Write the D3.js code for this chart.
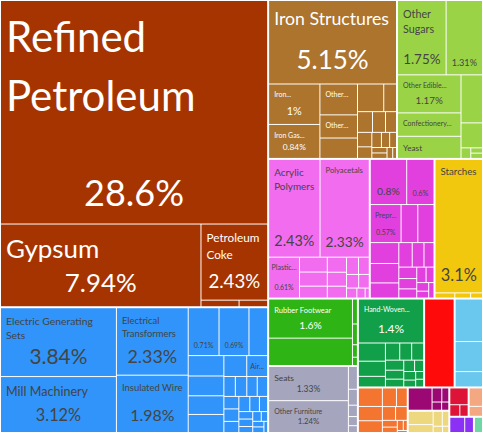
<!DOCTYPE html>
<html>
<head>
<meta charset="utf-8">
<script src="https://cdn.jsdelivr.net/npm/d3@7"></script>
<style>
  html, body { margin: 0; padding: 0; background: #fff; }
  svg { display: block; }
</style>
</head>
<body>
<div id="chart"></div>
<script>
const width = 483, height = 433;

// HS sections, in the order they are laid out
const sectionNames = [
  "Mineral Products", "Machines", "Metals", "Foodstuffs", "Plastics and Rubbers",
  "Chemical Products", "Vegetable Products", "Footwear and Headwear", "Miscellaneous",
  "Textiles", "Animal Hides", "Transportation", "Stone And Glass", "Precious Metals",
  "Paper Goods", "Animal Products", "Wood Products", "Instruments", "Animal and Vegetable Bi-Products"
];

// product labels as they read in the chart ("" = only the share shows, null = no text)
const productLabels = [
  ["Refined Petroleum", "Gypsum", "Petroleum Coke", null, null],
  ["Electric Generating Sets", "Mill Machinery", "Electrical Transformers", "Insulated Wire", "", "",
   null, null, null, null, null, null, "Air...", null, null, null, null, null, null, null, null, null,
   null, null, null, null, null, null, null, null, null],
  ["Iron Structures", "Iron...", "Iron Gas...", "Other...", "Other...", null, null, null, null, null,
   null, null, null, null, null, null, null, null, null, null],
  ["Other Sugars", "", "Other Edible...", "Confectionery...", "Yeast", null, null, null, null, null],
  ["Acrylic Polymers", "Polyacetals", "Plastic...", null, null, null, null, null, null, null, null,
   null, null, null, null, null],
  ["", "", "Prepr...", null, null, null, null, null, null, null, null, null, null, null, null, null,
   null, null, null],
  ["Starches", null, null, null],
  ["Rubber Footwear", null, null, null, null, null],
  ["Seats", "Other Furniture", null, null, null, null, null],
  ["Hand-Woven...", null, null, null, null, null, null, null, null, null, null, null, null, null, null, null],
  [null],
  [null, null, null],
  [null, null, null, null, null, null, null, null, null, null, null, null],
  [null, null, null, null, null],
  [null, null, null, null, null, null],
  [null, null, null],
  [null, null],
  [null, null],
  [null]
];

// share of total exports (%)
const productShares = [
  [28.6, 7.94, 2.43, 0.12, 0.09],
  [3.84, 3.12, 2.33, 1.98, 0.71, 0.69, 0.43, 0.35, 0.34, 0.32, 0.31, 0.23, 0.21, 0.11, 0.11,
   0.1, 0.1, 0.09, 0.09, 0.08, 0.08, 0.07, 0.06, 0.05, 0.05, 0.04, 0.04, 0.03, 0.03, 0.03, 0.02],
  [5.15, 1, 0.84, 0.56, 0.42, 0.37, 0.35, 0.17, 0.15, 0.13, 0.11, 0.1, 0.08, 0.07, 0.06, 0.05,
   0.04, 0.04, 0.03, 0.02],
  [1.75, 1.31, 1.17, 0.72, 0.68, 0.5, 0.26, 0.05, 0.03, 0.03],
  [2.43, 2.33, 0.61, 0.2, 0.19, 0.16, 0.14, 0.13, 0.11, 0.1, 0.09, 0.08, 0.07, 0.05, 0.04, 0.02],
  [0.8, 0.6, 0.57, 0.31, 0.3, 0.29, 0.27, 0.21, 0.16, 0.14, 0.12, 0.1, 0.09, 0.08, 0.07, 0.06,
   0.05, 0.04, 0.04],
  [3.1, 0.05, 0.04, 0.03],
  [1.6, 1.12, 0.06, 0.05, 0.03, 0.02],
  [1.33, 1.24, 0.1, 0.07, 0.05, 0.04, 0.03],
  [1.4, 0.24, 0.2, 0.14, 0.12, 0.1, 0.1, 0.09, 0.08, 0.07, 0.06, 0.05, 0.05, 0.04, 0.03, 0.03],
  [1.29],
  [0.58, 0.41, 0.21],
  [0.22, 0.17, 0.14, 0.13, 0.1, 0.09, 0.08, 0.05, 0.04, 0.03, 0.02, 0.01],
  [0.27, 0.07, 0.05, 0.04, 0.03],
  [0.17, 0.1, 0.07, 0.05, 0.03, 0.02],
  [0.16, 0.06, 0.05],
  [0.13, 0.07],
  [0.12, 0.07],
  [0.07]
];

const sectionColors = [
  "#A63400", "#3094FA", "#AC742C", "#9AD446", "#F26CF0", "#E23FDF", "#F2C80E", "#2EB414",
  "#A5A6BE", "#119F4A", "#FF0A0A", "#6AC8EE", "#F47530", "#9C0873", "#EDD87F", "#DD1438",
  "#F4A882", "#8B30F5", "#6FD6A4"
];

const FONT = "Lato, sans-serif";
const ctx = document.createElement("canvas").getContext("2d");
function textW(s, f) { ctx.font = f + "px " + FONT; return ctx.measureText(s).width; }

const LH = 1.4, FMIN = 7, FMAX = 42;

function wrapLines(text, maxW, f) {
  const lines = [];
  let cur = "";
  for (const w of text.split(" ")) {
    if (textW(w, f) > maxW) return null;
    const t = cur ? cur + " " + w : w;
    if (textW(t, f) <= maxW) cur = t;
    else { lines.push(cur); cur = w; }
  }
  lines.push(cur);
  return lines;
}

// shrink font until wrapped text fits the box (roughly like d3plus textbox)
function fitText(text, bw, bh, fMin, fMax) {
  if (bw <= 0 || bh <= 0) return null;
  let f = fMax;
  const area = textW(text, f) * f * LH * (1.165 + bw / bh * 0.1);
  if (area > bw * bh) f = Math.sqrt(bw * bh / area) * f;
  f = Math.max(fMin, Math.min(fMax, f));
  for (; f >= fMin; f -= 0.25) {
    const lines = wrapLines(text, bw, f);
    if (lines && lines.length * f * LH <= bh + 0.5) return { f, lines };
  }
  return null;
}

const fmtShare = d3.format(".3~r");

const data = {
  name: "Exports",
  children: sectionNames.map((s, i) => ({
    name: s,
    section: i,
    children: productShares[i].map((v, j) => ({ label: productLabels[i][j], share: v, section: i }))
  }))
};

// sections keep their listed order, products go largest first
const root = d3.hierarchy(data)
  .sum(d => d.share || 0)
  .sort((a, b) => a.depth === 1 ? a.data.section - b.data.section : b.value - a.value);

d3.treemap()
  .size([width, height])
  .tile(d3.treemapSquarify)
  .paddingOuter(d => d.depth === 0 ? 1 : 0)
  .paddingInner(d => d.depth === 0 ? 2 : 1)(root);

const svg = d3.select("#chart").append("svg")
  .attr("width", width)
  .attr("height", height)
  .style("font-family", FONT);

const leaves = root.leaves();

const cell = svg.append("g")
  .selectAll("g")
  .data(leaves)
  .join("g");

cell.append("rect")
  .attr("x", d => d.x0)
  .attr("y", d => d.y0)
  .attr("width", d => Math.max(0, d.x1 - d.x0))
  .attr("height", d => Math.max(0, d.y1 - d.y0))
  .attr("fill", d => sectionColors[d.data.section]);

function textColor(c) {
  const r = d3.rgb(c);
  return (r.r * 299 + r.g * 587 + r.b * 114) / 1000 >= 128 ? "#444" : "#fff";
}

cell.each(function(d) {
  const label = d.data.label;
  if (label === null) return;
  const g = d3.select(this);
  const w = d.x1 - d.x0, h = d.y1 - d.y0;
  const p = 5;
  const fill = textColor(sectionColors[d.data.section]);
  let sh = Math.min(50, (h - 2 * p) * 0.5);
  if (sh < 10) sh = 0;

  // product name, top left
  if (label) {
    const bw = w - 2 * p, bh = h - sh - 2 * p;
    let fit = null;
    if (label.endsWith("...")) {
      if (FMIN * LH <= bh + 2 && textW(label, FMIN) <= w - 2) fit = { f: FMIN, lines: [label] };
    } else {
      fit = fitText(label, bw, bh, FMIN, FMAX);
    }
    if (fit) {
      const px = Math.min(p, Math.max(2, (w - textW(fit.lines[0], fit.f)) / 2));
      fit.lines.forEach((line, i) => {
        g.append("text")
          .attr("x", d.x0 + px)
          .attr("y", d.y0 + p + i * fit.f * LH + fit.f * 1.09)
          .attr("font-size", fit.f)
          .attr("fill", fill)
          .text(line);
      });
    }
  }

  // share, bottom centre
  if (sh > 0) {
    const txt = fmtShare(d.data.share) + "%";
    const fit = fitText(txt, w - 2 * p, sh, 6, 40);
    if (fit) {
      g.append("text")
        .attr("x", (d.x0 + d.x1) / 2)
        .attr("y", d.y1 - p - fit.f * 0.36)
        .attr("text-anchor", "middle")
        .attr("font-size", fit.f)
        .attr("fill", fill)
        .text(txt);
    }
  }
});
</script>
</body>
</html>
